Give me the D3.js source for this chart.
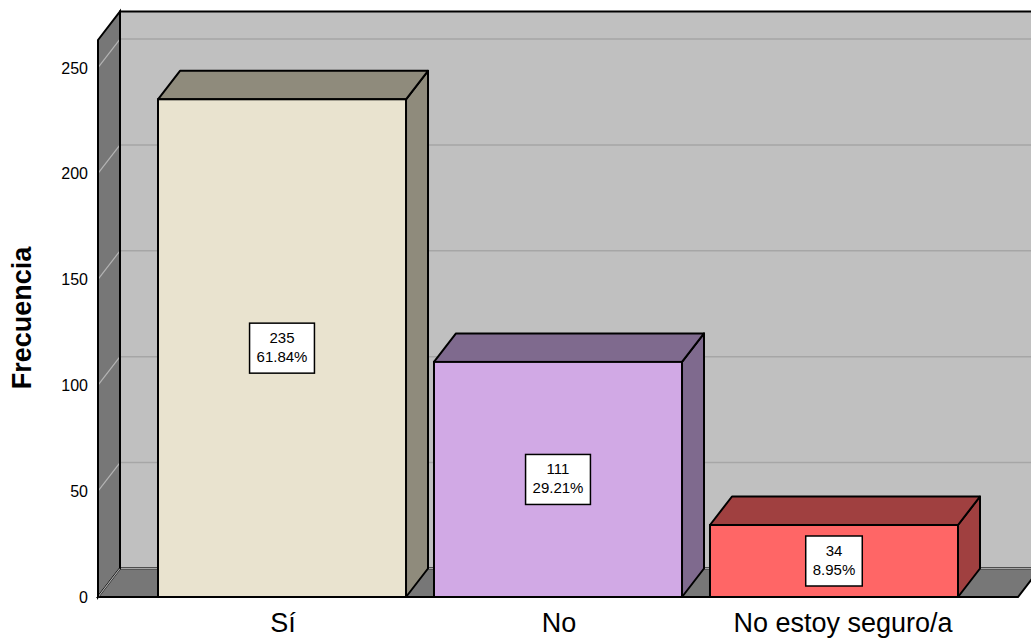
<!DOCTYPE html>
<html>
<head>
<meta charset="utf-8">
<script src="https://cdn.jsdelivr.net/npm/d3@7"></script>
<style>
  body { margin: 0; background: #fff; }
  text { font-family: Arial, "Liberation Sans", sans-serif; }
</style>
</head>
<body>
<div class="chart"></div>
<script>
// data
const categories = ["Sí", "No", "No estoy seguro/a"];
const counts = [235, 111, 34];
const percents = ["61.84%", "29.21%", "8.95%"];
const yTicks = [0, 50, 100, 150, 200, 250];

const frontColors = ["#e9e3cf", "#d1a9e5", "#ff6666"];
const sideColors = ["#8f8b7c", "#7f6a8e", "#a04040"];

const width = 1031, height = 639;
const depth = {x: 22, y: -28.5};

const svg = d3.select(".chart").append("svg")
  .attr("width", width)
  .attr("height", height);

const xScale = d3.scaleBand()
  .domain(categories)
  .range([98, 1018])
  .paddingInner(0.1014)
  .paddingOuter(0.2174);

const yScale = d3.scaleLinear()
  .domain([0, 263])
  .range([597, 40]);

const x0 = 98, x1 = 1018;
const yb = yScale(0), yt = yScale(263);
const line = pts => "M" + pts.map(p => p.join(",")).join("L") + "Z";

// back wall
svg.append("path")
  .attr("d", line([[x0 + depth.x, yt + depth.y], [x1 + depth.x + 40, yt + depth.y],
                   [x1 + depth.x + 40, yb + depth.y], [x0 + depth.x, yb + depth.y]]))
  .attr("fill", "#c0c0c0")
  .attr("stroke", "#000")
  .attr("stroke-width", 2);

// left wall
svg.append("path")
  .attr("d", line([[x0, yt], [x0 + depth.x, yt + depth.y], [x0 + depth.x, yb + depth.y], [x0, yb]]))
  .attr("fill", "#777777")
  .attr("stroke", "#000")
  .attr("stroke-width", 2);

// floor
svg.append("path")
  .attr("d", line([[x0, yb], [x0 + depth.x, yb + depth.y], [x1 + depth.x, yb + depth.y], [x1, yb]]))
  .attr("fill", "#777777")
  .attr("stroke", "#000")
  .attr("stroke-width", 2);

// gridlines
const grid = svg.append("g");
grid.selectAll(".gback")
  .data(yTicks)
  .join("line")
  .attr("x1", x0 + depth.x + 1)
  .attr("x2", width)
  .attr("y1", d => yScale(d) + depth.y)
  .attr("y2", d => yScale(d) + depth.y)
  .attr("stroke", "#a6a6a6")
  .attr("stroke-width", 1.5);
grid.selectAll(".gside")
  .data(yTicks)
  .join("line")
  .attr("x1", x0)
  .attr("x2", x0 + depth.x)
  .attr("y1", d => yScale(d))
  .attr("y2", d => yScale(d) + depth.y)
  .attr("stroke", "#b4b4b4")
  .attr("stroke-width", 1.2);

// redraw wall edges over gridlines
svg.append("line").attr("x1", x0 + depth.x).attr("x2", x0 + depth.x)
  .attr("y1", yt + depth.y).attr("y2", yb + depth.y)
  .attr("stroke", "#000").attr("stroke-width", 2);
svg.append("line").attr("x1", x0).attr("x2", x0)
  .attr("y1", yt).attr("y2", yb)
  .attr("stroke", "#000").attr("stroke-width", 2);

// y tick labels
svg.selectAll(".ytick")
  .data(yTicks)
  .join("text")
  .attr("x", 88)
  .attr("y", d => yScale(d) + 6)
  .attr("text-anchor", "end")
  .attr("font-size", 16)
  .text(d => d);

// y title
svg.append("text")
  .attr("transform", "translate(31,318) rotate(-90)")
  .attr("text-anchor", "middle")
  .attr("font-size", 27)
  .attr("font-weight", "bold")
  .text("Frecuencia");

// bars
const bars = svg.selectAll(".bar")
  .data(categories.map((c, i) => ({c, v: counts[i], p: percents[i], i})))
  .join("g");

bars.append("path")
  .attr("d", d => {
    const l = xScale(d.c), r = l + xScale.bandwidth(), t = yScale(d.v);
    return line([[r, t], [r + depth.x, t + depth.y], [r + depth.x, yb + depth.y], [r, yb]]);
  })
  .attr("fill", d => sideColors[d.i])
  .attr("stroke", "#000")
  .attr("stroke-width", 2)
  .attr("stroke-linejoin", "round");

bars.append("path")
  .attr("d", d => {
    const l = xScale(d.c), r = l + xScale.bandwidth(), t = yScale(d.v);
    return line([[l, t], [l + depth.x, t + depth.y], [r + depth.x, t + depth.y], [r, t]]);
  })
  .attr("fill", d => sideColors[d.i])
  .attr("stroke", "#000")
  .attr("stroke-width", 2)
  .attr("stroke-linejoin", "round");

bars.append("rect")
  .attr("x", d => xScale(d.c))
  .attr("y", d => yScale(d.v))
  .attr("width", xScale.bandwidth())
  .attr("height", d => yb - yScale(d.v))
  .attr("fill", d => frontColors[d.i])
  .attr("stroke", "#000")
  .attr("stroke-width", 2);

// value boxes
bars.each(function(d) {
  const g = d3.select(this);
  const cx = xScale(d.c) + xScale.bandwidth() / 2;
  const cy = (yScale(d.v) + yb) / 2;
  const box = g.append("rect");
  const t1 = g.append("text").attr("x", cx).attr("y", cy - 5)
    .attr("text-anchor", "middle").attr("font-size", 15).text(d.v);
  const t2 = g.append("text").attr("x", cx).attr("y", cy + 14)
    .attr("text-anchor", "middle").attr("font-size", 15).text(d.p);
  const w = Math.max(t1.node().getComputedTextLength(), t2.node().getComputedTextLength()) + 14;
  box.attr("x", cx - w / 2).attr("y", cy - 25)
    .attr("width", w).attr("height", 50)
    .attr("fill", "#fff").attr("stroke", "#000").attr("stroke-width", 1.5);
});

// category labels
svg.selectAll(".xlabel")
  .data(categories)
  .join("text")
  .attr("x", (d, i) => xScale(d) + xScale.bandwidth() / 2 + (i === 2 ? 9 : 1))
  .attr("y", 632)
  .attr("text-anchor", "middle")
  .attr("font-size", 27)
  .text(d => d);
</script>
</body>
</html>
